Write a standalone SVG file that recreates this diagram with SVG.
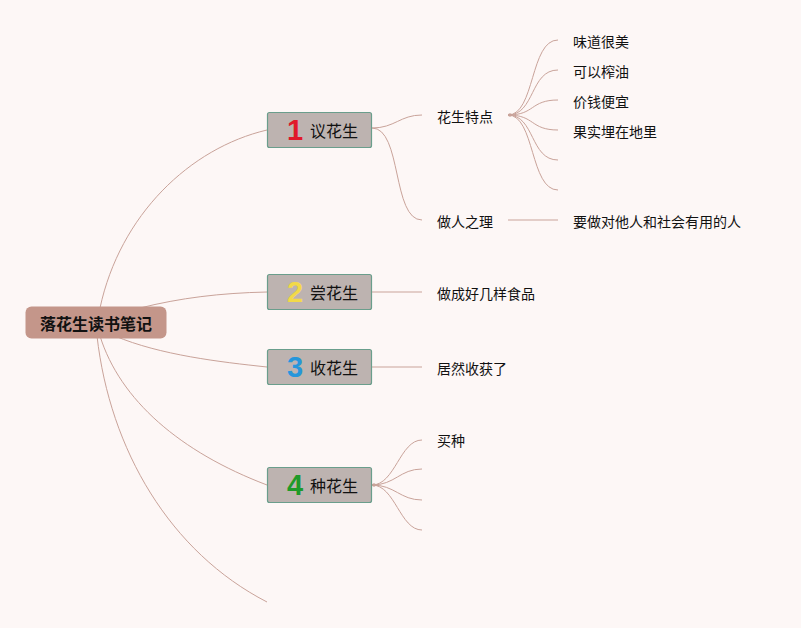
<svg xmlns="http://www.w3.org/2000/svg" width="801" height="628" viewBox="0 0 801 628">
<style>
.bg{fill:#fdf7f6}
.ln{fill:none;stroke:#c9a39a;stroke-width:1}
.root rect{fill:#c4968a}
.root text{font-family:"Noto Sans CJK SC","Liberation Sans",sans-serif;font-size:16px;font-weight:bold;fill:#111;text-anchor:middle;dominant-baseline:central}
.l1 rect{fill:#bdb3b0;stroke:#6a9e8c;stroke-width:1.2}
.l1 .lab{font-family:"Noto Sans CJK SC","Liberation Sans",sans-serif;font-size:16px;fill:#111;dominant-baseline:central}
.num{font-family:"Liberation Sans",Arial,sans-serif;font-size:29px;font-weight:bold;text-anchor:middle}
.t{font-family:"Noto Sans CJK SC","Liberation Sans",sans-serif;font-size:14px;fill:#111;dominant-baseline:central}
</style>
<rect class="bg" x="0" y="0" width="801" height="628"/>
<g id="connectors">
<path class="ln" d="M100,308 C120,215 190,148 267,130"/>
<path class="ln" d="M140,308 C180,298 220,293 267,292"/>
<path class="ln" d="M115,336 C160,355 220,362 267,367"/>
<path class="ln" d="M100,336 C120,400 180,452 267,485"/>
<path class="ln" d="M97,336 C110,450 170,552 267,602"/>
<path class="ln" d="M372,128 C395,128 400,115 422,115"/>
<path class="ln" d="M372,128 C402,128 392,220 422,220"/>
<path class="ln" d="M508,115 C535,115 530,40 558,40"/>
<path class="ln" d="M508,115 C535,115 530,70 558,70"/>
<path class="ln" d="M508,115 C535,115 530,100 558,100"/>
<path class="ln" d="M508,115 C535,115 530,130 558,130"/>
<path class="ln" d="M508,115 C535,115 530,160 558,160"/>
<path class="ln" d="M508,115 C535,115 530,190 558,190"/>
<circle cx="510" cy="115" r="1.8" fill="#c9a39a"/>
<path class="ln" d="M508,220 L558,220"/>
<path class="ln" d="M372,292 L422,292"/>
<path class="ln" d="M372,367 L422,367"/>
<path class="ln" d="M372,485 C395,485 400,440 422,440"/>
<path class="ln" d="M372,485 C395,485 400,469 422,469"/>
<path class="ln" d="M372,485 C395,485 400,500 422,500"/>
<path class="ln" d="M372,485 C395,485 400,530 422,530"/>
<circle cx="374" cy="485" r="1.8" fill="#c9a39a"/>
</g>
<g id="root" class="root">
<rect x="25.5" y="306.5" width="141" height="32" rx="6"/>
<text x="96" y="323">落花生读书笔记</text>
</g>
<g id="n1" class="l1">
<rect x="267.5" y="112.5" width="104" height="35" rx="2"/>
<text class="num" x="295" y="140" fill="#e0192a">1</text>
<text class="lab" x="310" y="130">议花生</text>
</g>
<g id="n2" class="l1">
<rect x="267.5" y="274.5" width="104" height="35" rx="2"/>
<text class="num" x="295" y="302" fill="#f2d948">2</text>
<text class="lab" x="310" y="292">尝花生</text>
</g>
<g id="n3" class="l1">
<rect x="267.5" y="349.5" width="104" height="35" rx="2"/>
<text class="num" x="295" y="377" fill="#2596db">3</text>
<text class="lab" x="310" y="367">收花生</text>
</g>
<g id="n4" class="l1">
<rect x="267.5" y="467.5" width="104" height="35" rx="2"/>
<text class="num" x="295" y="495" fill="#1e9a2a">4</text>
<text class="lab" x="310" y="485">种花生</text>
</g>
<g id="n1a"><text class="t" x="437" y="116">花生特点</text></g>
<g id="n1a1"><text class="t" x="573" y="41">味道很美</text></g>
<g id="n1a2"><text class="t" x="573" y="71">可以榨油</text></g>
<g id="n1a3"><text class="t" x="573" y="101">价钱便宜</text></g>
<g id="n1a4"><text class="t" x="573" y="131">果实埋在地里</text></g>
<g id="n1b"><text class="t" x="437" y="221">做人之理</text></g>
<g id="n1b1"><text class="t" x="573" y="221">要做对他人和社会有用的人</text></g>
<g id="n2a"><text class="t" x="437" y="293">做成好几样食品</text></g>
<g id="n3a"><text class="t" x="437" y="368">居然收获了</text></g>
<g id="n4a"><text class="t" x="437" y="440">买种</text></g>
</svg>
